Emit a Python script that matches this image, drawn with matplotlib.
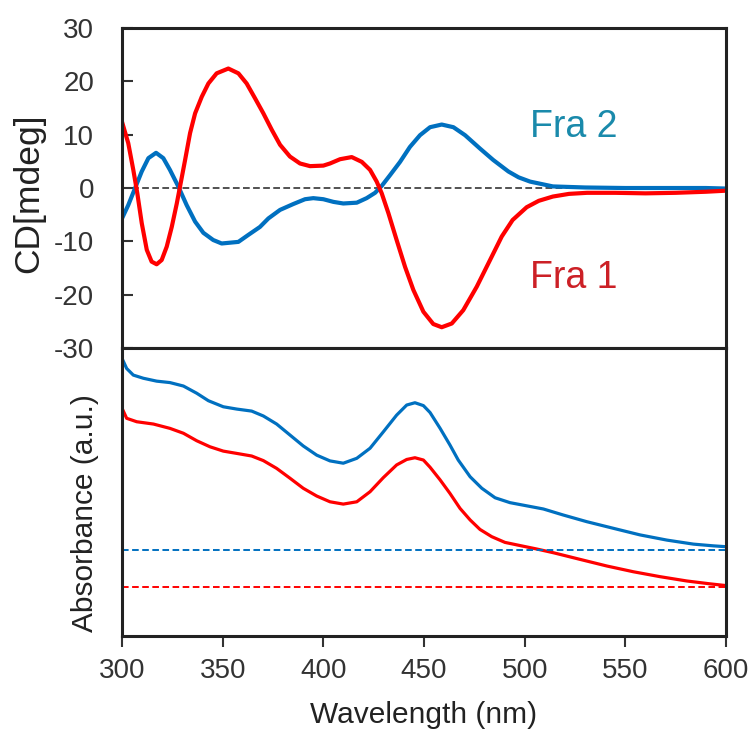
import numpy as np
import matplotlib.pyplot as plt

plt.rcParams['font.family'] = ['Liberation Sans', 'DejaVu Sans']
plt.rcParams['axes.unicode_minus'] = False

# CD spectra (mdeg)
cd_wl_fra1 = [300, 303.1, 305.6, 307.6, 309.8, 312.3, 314.7, 317.2, 319.7, 322.2,
              324.7, 327.2, 328.8, 331.3, 333.8, 336.3, 339.6, 342.9, 347, 352.8,
              357.8, 361.9, 366.1, 370.2, 374.4, 378.5, 383.4, 388.4, 393.4, 400,
              403.3, 408.3, 414.1, 419.1, 423.2, 426.5, 429, 432.3, 436.4, 440.6,
              444.7, 449.7, 454.6, 458.8, 463.8, 469.5, 476.2, 482.8, 488.6, 494,
              501, 507, 514, 522, 531, 545, 560, 575, 590, 600]
cd_fra1 = [12.4, 8.4, 3.4, -1.0, -6.6, -11.6, -13.8, -14.3, -13.5, -11.0,
           -7.3, -2.9, 0.25, 5.2, 10.3, 14.0, 17.1, 19.6, 21.5, 22.4,
           21.5, 19.6, 16.8, 14.0, 10.9, 8.1, 5.9, 4.6, 4.1, 4.2,
           4.6, 5.4, 5.8, 4.9, 3.4, 1.2, -1.0, -4.7, -9.75, -14.8,
           -19.1, -23.2, -25.5, -26.1, -25.4, -22.9, -18.5, -13.5, -9.1, -6.0,
           -3.6, -2.4, -1.6, -1.1, -0.9, -0.9, -1.0, -0.9, -0.7, -0.5]

cd_wl_fra2 = [300, 303.1, 306.5, 309.8, 313.1, 316.9, 320.5, 323.8, 328, 332.1,
              336.3, 340.4, 345.3, 349.5, 357.8, 362.7, 368.5, 372.7, 378.5, 385.1,
              390.9, 395, 400, 405, 409.9, 416.6, 421.5, 425.7, 429, 433.1,
              438.1, 443, 448, 453, 458.8, 464.6, 470.4, 477.8, 484.4, 491.9,
              497, 502.7, 514, 530, 550, 570, 590, 600]
cd_fra2 = [-5.7, -3.2, 0.0, 3.1, 5.6, 6.6, 5.6, 3.4, 0.25, -3.2,
           -6.3, -8.4, -9.75, -10.4, -10.1, -8.8, -7.3, -5.7, -4.1, -3.0,
           -2.1, -1.9, -2.1, -2.6, -2.9, -2.75, -1.9, -0.9, 0.4, 2.4,
           4.9, 7.7, 9.9, 11.4, 11.9, 11.4, 9.9, 7.4, 5.25, 3.1,
           2.0, 1.2, 0.3, 0.1, 0.0, 0.0, 0.0, -0.1]

# UV-vis absorbance (arbitrary units)
abs_wl_fra2 = [300, 302.3, 305.6, 310.6, 317.2, 323.8, 330.5, 337.1, 342.9, 350.3,
               357, 364.4, 370.2, 376.8, 383.4, 390, 396.7, 403.3, 409.9, 416.6,
               423.2, 429.8, 436.4, 441.4, 445.5, 449.7, 453, 458, 462.9, 467,
               472.9, 478.7, 485.3, 492.7, 501, 509.3, 519.2, 530.8, 544, 557.3,
               570.6, 583.8, 593.7, 600]
abs_fra2 = [0.964, 0.929, 0.906, 0.895, 0.885, 0.880, 0.868, 0.843, 0.817, 0.796,
            0.788, 0.781, 0.764, 0.736, 0.698, 0.660, 0.628, 0.608, 0.600, 0.617,
            0.652, 0.709, 0.767, 0.802, 0.810, 0.800, 0.776, 0.721, 0.663, 0.611,
            0.553, 0.513, 0.480, 0.463, 0.452, 0.441, 0.420, 0.397, 0.374, 0.351,
            0.333, 0.319, 0.313, 0.310]

abs_wl_fra1 = [300, 302.3, 307.3, 315.6, 323.8, 330.5, 337.1, 343.7, 350.3, 357,
               364.4, 370.2, 376.8, 383.4, 390, 396.7, 403.3, 409.9, 416.6, 423.2,
               429.8, 436.4, 441.4, 445.5, 449.7, 453, 458, 462.9, 467.9, 472.9,
               477.8, 483.6, 490.2, 497.7, 506, 514.3, 527.5, 540.8, 554, 567.2,
               580.5, 592.1, 600]
abs_fra1 = [0.791, 0.756, 0.744, 0.736, 0.721, 0.704, 0.678, 0.657, 0.642, 0.634,
            0.625, 0.609, 0.582, 0.548, 0.513, 0.486, 0.466, 0.458, 0.466, 0.501,
            0.550, 0.594, 0.613, 0.619, 0.611, 0.586, 0.542, 0.495, 0.443, 0.403,
            0.370, 0.345, 0.325, 0.314, 0.302, 0.289, 0.266, 0.243, 0.223, 0.206,
            0.191, 0.181, 0.175]

base_fra2 = 0.299
base_fra1 = 0.171

blue = '#0070c0'
red = '#ff0000'

fig = plt.figure(figsize=(7.5, 7.31), dpi=100)
ax1 = fig.add_axes([0.1627, 0.5239, 0.8053, 0.4378])
ax2 = fig.add_axes([0.1627, 0.1300, 0.8053, 0.3939])

# --- CD panel ---
ax1.plot(cd_wl_fra2, cd_fra2, color=blue, lw=3.0, solid_joinstyle='round')
ax1.plot(cd_wl_fra1, cd_fra1, color=red, lw=3.0, solid_joinstyle='round')
ax1.axhline(0, color='#222222', lw=1.1, ls=(0, (4.4, 2.2)), zorder=0)
ax1.set_xlim(300, 600)
ax1.set_ylim(-30, 30)
ax1.set_yticks(np.arange(-30, 31, 10))
ax1.set_xticks([])
ax1.tick_params(axis='y', direction='in', length=8, width=1.5, labelsize=20,
                colors='#333333', pad=20)
ax1.set_ylabel('CD[mdeg]', fontsize=25.5, color='#222222')
ax1.yaxis.set_label_coords(-0.127, 0.484)
ax1.text(524.5, 9.6, 'Fra 2', color='#1a8aab', fontsize=27, ha='center', va='baseline')
ax1.text(524.5, -18.75, 'Fra 1', color='#cc2026', fontsize=27, ha='center', va='baseline')

# --- absorbance panel ---
ax2.plot(abs_wl_fra2, abs_fra2, color=blue, lw=2.3, solid_joinstyle='round')
ax2.plot(abs_wl_fra1, abs_fra1, color=red, lw=2.3, solid_joinstyle='round')
ax2.axhline(base_fra2, color=blue, lw=1.4, ls=(0, (3.4, 1.8)))
ax2.axhline(base_fra1, color=red, lw=1.4, ls=(0, (3.4, 1.8)))
ax2.set_xlim(300, 600)
ax2.set_ylim(0, 1)
ax2.set_yticks([])
ax2.set_xticks(np.arange(300, 601, 50))
ax2.tick_params(axis='x', direction='out', length=8, width=1.5, labelsize=20,
                colors='#333333', pad=8)
ax2.set_ylabel('Absorbance (a.u.)', fontsize=21.5, color='#222222')
ax2.yaxis.set_label_coords(-0.038, 0.427)
ax2.set_xlabel('Wavelength (nm)', fontsize=21.5, color='#222222', labelpad=12)

for ax in (ax1, ax2):
    for sp in ax.spines.values():
        sp.set_color('#222222')
        sp.set_linewidth(2.2)

fig.savefig('out.png', dpi=100)
